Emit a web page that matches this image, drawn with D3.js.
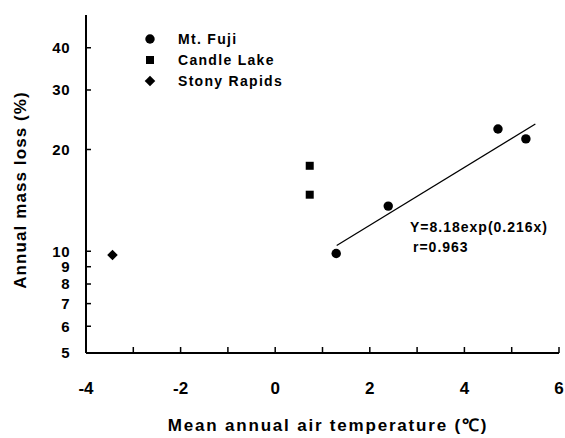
<!DOCTYPE html>
<html><head><meta charset="utf-8">
<script src="https://cdn.jsdelivr.net/npm/d3@7"></script>
<style>
body{margin:0;background:#fff;}
svg text{font-family:"Liberation Sans",Arial,sans-serif;fill:#000;}
</style></head>
<body><svg id="c" width="565" height="438"></svg>
<script>
// Data
const fujiX = [1.29, 2.39, 4.71, 5.30];
const fujiY = [9.85, 13.6, 23.0, 21.5];
const candleX = [0.73, 0.73];
const candleY = [17.9, 14.7];
const stonyX = [-3.44];
const stonyY = [9.75];
const fitX = [1.3, 5.5];
const fitY = [10.4, 23.8];
const xTicks = [-4,-3,-2,-1,0,1,2,3,4,5,6];
const xTickLabels = [-4,-2,0,2,4,6];
const yTicks = [5,6,7,8,9,10,20,30,40];
const legendNames = ["Mt. Fuji","Candle Lake","Stony Rapids"];
const equationText = "Y=8.18exp(0.216x)";
const rText = "r=0.963";

const svg = d3.select("#c");
const x = d3.scaleLinear().domain([-4,6]).range([86,559]);
const y = d3.scaleLog().domain([5,50]).range([353,15]);

const g = svg.append("g");
// axes lines
g.append("line").attr("x1",x(-4)).attr("x2",x(6)).attr("y1",y(5)).attr("y2",y(5)).attr("stroke","#000").attr("stroke-width",2);
g.append("line").attr("x1",x(-4)).attr("x2",x(-4)).attr("y1",y(5)).attr("y2",y(50)).attr("stroke","#000").attr("stroke-width",2);
// x ticks (inward)
g.selectAll(".xt").data(xTicks).enter().append("line")
 .attr("x1",d=>x(d)).attr("x2",d=>x(d)).attr("y1",y(5)).attr("y2",y(5)-6).attr("stroke","#000").attr("stroke-width",1.5);
g.selectAll(".xl").data(xTickLabels).enter().append("text")
 .attr("x",d=>x(d)).attr("y",394).attr("text-anchor","middle")
 .attr("font-size",17).attr("font-weight","bold").text(d=>d);
// y ticks
g.selectAll(".yt").data(yTicks).enter().append("line")
 .attr("x1",x(-4)).attr("x2",x(-4)+5).attr("y1",d=>y(d)).attr("y2",d=>y(d)).attr("stroke","#000").attr("stroke-width",1.5);
g.selectAll(".yl").data(yTicks).enter().append("text")
 .attr("x",70).attr("y",d=>y(d)).attr("dy","0.36em").attr("text-anchor","end")
 .attr("font-size",15).attr("font-weight","bold").attr("letter-spacing","0.5px").text(d=>d);

// axis titles
svg.append("text").attr("x",328).attr("y",431).attr("text-anchor","middle")
 .attr("font-size",17).attr("font-weight","bold").attr("letter-spacing","1.8px")
 .text("Mean annual air temperature (\u2103)");
svg.append("text").attr("transform","translate(26,190) rotate(-90)").attr("text-anchor","middle")
 .attr("font-size",17).attr("font-weight","bold").attr("letter-spacing","1.1px")
 .text("Annual mass loss (%)");

// fit line
const fit = fitX.map((v,i)=>[v,fitY[i]]);
svg.append("path").attr("d",d3.line().x(d=>x(d[0])).y(d=>y(d[1]))(fit))
 .attr("stroke","#000").attr("stroke-width",1.3).attr("fill","none");

// markers
const circ = d3.symbol().type(d3.symbolCircle).size(70);
const sq = d3.symbol().type(d3.symbolSquare).size(64);
const dia = d3.symbol().type(d3.symbolSquare).size(56);
const rots = [0,0,45];
svg.selectAll(".f").data(fujiX.map((v,i)=>[v,fujiY[i]])).enter().append("path")
 .attr("d",circ).attr("transform",d=>`translate(${x(d[0])},${y(d[1])})`);
svg.selectAll(".c").data(candleX.map((v,i)=>[v,candleY[i]])).enter().append("path")
 .attr("d",sq).attr("transform",d=>`translate(${x(d[0])},${y(d[1])})`);
svg.selectAll(".s").data(stonyX.map((v,i)=>[v,stonyY[i]])).enter().append("path")
 .attr("d",dia).attr("transform",d=>`translate(${x(d[0])},${y(d[1])}) rotate(45)`);

// legend
const syms = [circ, sq, dia];
legendNames.forEach((n,i)=>{
  const ly = 39 + i*21;
  svg.append("path").attr("d",syms[i]).attr("transform",`translate(150,${ly}) rotate(${rots[i]})`);
  svg.append("text").attr("x",178).attr("y",ly).attr("dy","0.36em")
   .attr("font-size",14).attr("font-weight","bold").attr("letter-spacing","1.3px").text(n);
});

// equation
svg.append("text").attr("x",410).attr("y",227).attr("dy","0.36em")
 .attr("font-size",14).attr("font-weight","bold").attr("letter-spacing","1px").text(equationText);
svg.append("text").attr("x",413).attr("y",247).attr("dy","0.36em")
 .attr("font-size",14).attr("font-weight","bold").attr("letter-spacing","1px").text(rText);
</script></body></html>
